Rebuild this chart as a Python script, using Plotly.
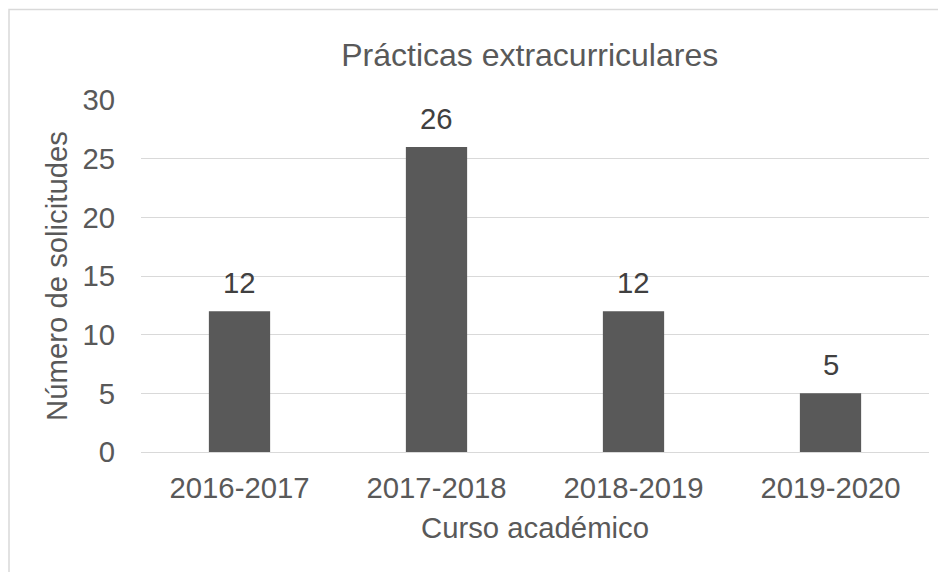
import plotly.graph_objects as go

# ----------------------------
# DATA
# ----------------------------
cursos = ["2016-2017", "2017-2018", "2018-2019", "2019-2020"]
solicitudes = [12, 26, 12, 5]
y_ticks = [0, 5, 10, 15, 20, 25, 30]

GRIS = "#595959"
GRID = "#d9d9d9"
FONT = "Liberation Sans, Arial, sans-serif"
TXT = 29.3

fig = go.Figure(
    go.Bar(
        x=cursos,
        y=solicitudes,
        marker=dict(color=GRIS, line=dict(width=0)),
        hoverinfo="x+y",
    )
)

# data labels above each bar
for c, v in zip(cursos, solicitudes):
    fig.add_annotation(
        x=c, y=v, text=str(v), showarrow=False,
        yanchor="bottom", yshift=10,
        font=dict(family=FONT, size=TXT, color="#404040"),
    )

# light frame around the chart area
fig.add_shape(
    type="rect", xref="paper", yref="paper",
    x0=-0.1675, x1=1.2, y0=-0.6, y1=1.257,
    line=dict(color=GRID, width=1.5), layer="below",
)

fig.update_layout(
    width=946,
    height=572,
    margin=dict(l=133, r=25, t=92, b=128, autoexpand=False),
    paper_bgcolor="white",
    plot_bgcolor="white",
    bargap=0.689,
    showlegend=False,
    font=dict(family=FONT, size=TXT, color=GRIS),
    title=dict(
        text="Prácticas extracurriculares",
        x=0.4933, xref="paper", xanchor="center",
        y=1 - 47 / 572, yref="container", yanchor="middle",
        font=dict(family=FONT, size=32, color=GRIS),
    ),
    xaxis=dict(
        title=dict(text="Curso académico", standoff=14,
                   font=dict(size=TXT, color=GRIS)),
        automargin=False,
        showgrid=False,
        showline=True, linecolor=GRID, linewidth=1.3,
        ticks="", ticklabelstandoff=10,
        tickfont=dict(size=TXT, color=GRIS),
    ),
    yaxis=dict(
        title=dict(text="Número de solicitudes", standoff=6,
                   font=dict(size=TXT, color=GRIS)),
        automargin=False,
        range=[0, 30],
        tickvals=y_ticks,
        showgrid=True, gridcolor=GRID, gridwidth=1.3,
        zeroline=False, showline=False,
        ticks="", ticklabelstandoff=25,
        tickfont=dict(size=TXT, color=GRIS),
    ),
)

fig.write_html("out.html")
